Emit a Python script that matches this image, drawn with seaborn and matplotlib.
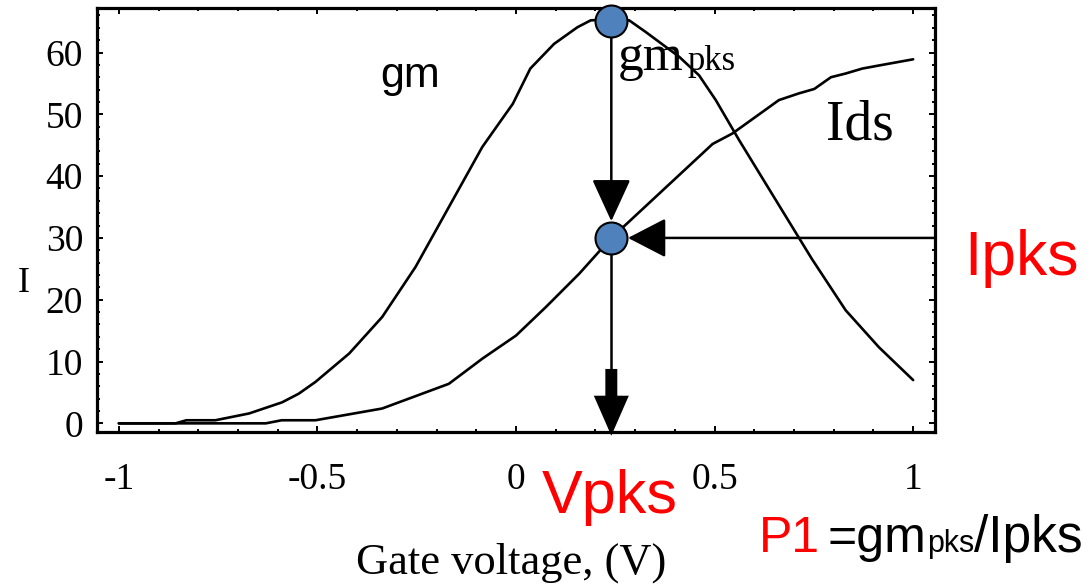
import matplotlib
matplotlib.use("Agg")
import matplotlib.pyplot as plt
import seaborn as sns

# gm curve (gate voltage, value)
gm_v = [-1.0, -0.857, -0.83, -0.757, -0.672, -0.589, -0.547, -0.505, -0.42, -0.337,
        -0.253, -0.169, -0.085, -0.04, -0.008, 0.036, 0.096, 0.155, 0.188, 0.24,
        0.285, 0.327, 0.411, 0.461, 0.503, 0.562, 0.662, 0.745, 0.83, 0.914, 1.0]
gm_i = [0.0, 0.0, 0.5, 0.5, 1.6, 3.4, 4.8, 6.7, 11.3, 17.2,
        25.3, 35.0, 44.7, 48.8, 51.7, 57.4, 61.4, 64.1, 65.2, 65.4,
        65.2, 63.3, 59.3, 56.3, 52.3, 45.8, 35.3, 26.6, 18.3, 12.3, 7.0]

# Ids curve
ids_v = [-1.0, -0.63, -0.59, -0.505, -0.337, -0.169, -0.084, 0.0, 0.075, 0.159,
         0.24, 0.279, 0.495, 0.545, 0.662, 0.713, 0.751, 0.793, 0.83, 0.872, 0.914, 1.0]
ids_i = [0.0, 0.0, 0.5, 0.5, 2.4, 6.4, 10.5, 14.2, 18.8, 24.2,
         30.0, 32.3, 45.2, 46.9, 52.3, 53.4, 54.1, 56.0, 56.6, 57.4, 57.9, 58.9]

# peak point
vpks = 0.24
gm_pks = 65.1
ipks = 30.0

xticks = [-1, -0.5, 0, 0.5, 1]
xtick_labels = ["-1", "-0.5", "0", "0.5", "1"]
yticks = [0, 10, 20, 30, 40, 50, 60]
ytick_labels = ["0", "10", "20", "30", "40", "50", "60"]

sns.set_style("ticks")
plt.rcParams["font.family"] = ["Liberation Serif", "DejaVu Serif"]
plt.rcParams["text.color"] = "black"
plt.rcParams["xtick.labelcolor"] = "black"
plt.rcParams["ytick.labelcolor"] = "black"

W, H = 1090, 584
fig = plt.figure(figsize=(W / 100, H / 100), dpi=100)
ax = fig.add_axes([97 / W, 1 - 432 / H, 838 / W, 424 / H])


def px(x, y):
    # pixel position -> figure fraction
    return x / W, 1 - y / H


sns.lineplot(x=gm_v, y=gm_i, ax=ax, color="black", lw=1.9, sort=False)
sns.lineplot(x=ids_v, y=ids_i, ax=ax, color="black", lw=1.9, sort=False)

ax.set_xlim(-1.055, 1.055)
ax.set_ylim(-1.4, 67.2)
ax.set_xticks(xticks, labels=xtick_labels)
ax.set_yticks(yticks, labels=ytick_labels)
ax.set_xticks([v / 10 for v in range(-10, 11)], minor=True)
ax.set_yticks(list(range(0, 67, 2)), minor=True)
ax.tick_params(which="both", direction="in", top=True, right=True, width=1.4, color="black")
ax.tick_params(which="major", length=4.5, labelsize=27)
ax.tick_params(which="minor", length=2.5)
ax.tick_params(axis="x", pad=22)
ax.tick_params(axis="y", pad=10)
for s in ax.spines.values():
    s.set_linewidth(2.3)
    s.set_color("black")

# vertical line from gm peak down to the Ids point
ax.annotate("", xy=(vpks, ipks), xytext=(vpks, gm_pks),
            arrowprops=dict(arrowstyle="-|>,head_length=1.33,head_width=0.61",
                            mutation_scale=20, color="black", lw=1.8,
                            shrinkA=0, shrinkB=12))
# horizontal arrow from the right axis
ax.annotate("", xy=(vpks, ipks), xytext=(ax.get_xlim()[1], ipks),
            arrowprops=dict(arrowstyle="-|>,head_length=1.2,head_width=0.62",
                            mutation_scale=20, color="black", lw=1.8,
                            shrinkA=0, shrinkB=12))
# line and block arrow down to the x axis
shaft_top = 8.8
ax.plot([vpks, vpks], [ipks, shaft_top], color="black", lw=1.8)
ax.annotate("", xy=(vpks, -2.0), xytext=(vpks, shaft_top), annotation_clip=False,
            arrowprops=dict(arrowstyle="simple,head_length=1.44,head_width=1.26,tail_width=0.43",
                            mutation_scale=20, color="black", lw=0,
                            shrinkA=0, shrinkB=0))

sns.scatterplot(x=[vpks, vpks], y=[gm_pks, ipks], ax=ax, s=530, color="#4F81BD",
                edgecolor="black", linewidth=1.5, zorder=6, clip_on=False)

# labels inside the plot
ax.text(*px(380, 87), "gm", transform=fig.transFigure, family="Liberation Sans",
        fontsize=31, va="baseline", ha="left")
t_gm = ax.text(*px(618, 70), "gm", transform=fig.transFigure, fontsize=37,
               va="baseline", ha="left")
ax.text(*px(687, 70), "pks", transform=fig.transFigure, fontsize=25,
        va="baseline", ha="left")
ax.text(*px(826, 140), "Ids", transform=fig.transFigure, fontsize=40,
        va="baseline", ha="left")

# axis labels
fig.text(*px(24, 292), "I", fontsize=26, ha="center", va="baseline")
fig.text(*px(511, 574), "Gate voltage, (V)", fontsize=32, ha="center", va="baseline")

# red annotations outside the plot
fig.text(*px(964, 275), "Ipks", color="#FF0000", family="Liberation Sans",
         fontsize=45, ha="left", va="baseline")
fig.text(*px(610, 513), "Vpks", color="#FF0000", family="Liberation Sans",
         fontsize=44, ha="center", va="baseline")
fig.text(*px(759, 552), "P1", color="#FF0000", family="Liberation Sans",
         fontsize=36, ha="left", va="baseline")

fig.canvas.draw()
r = fig.canvas.get_renderer()
t1 = fig.text(*px(828, 552), "=gm", family="Liberation Sans", fontsize=36,
              ha="left", va="baseline")
x1 = t1.get_window_extent(renderer=r).x1
t2 = fig.text(x1 / W, 1 - 552 / H, "pks", family="Liberation Sans", fontsize=22,
              ha="left", va="baseline")
x2 = t2.get_window_extent(renderer=r).x1
fig.text(x2 / W, 1 - 552 / H, "/Ipks", family="Liberation Sans", fontsize=37,
         ha="left", va="baseline")

fig.savefig("out.png", dpi=100)
